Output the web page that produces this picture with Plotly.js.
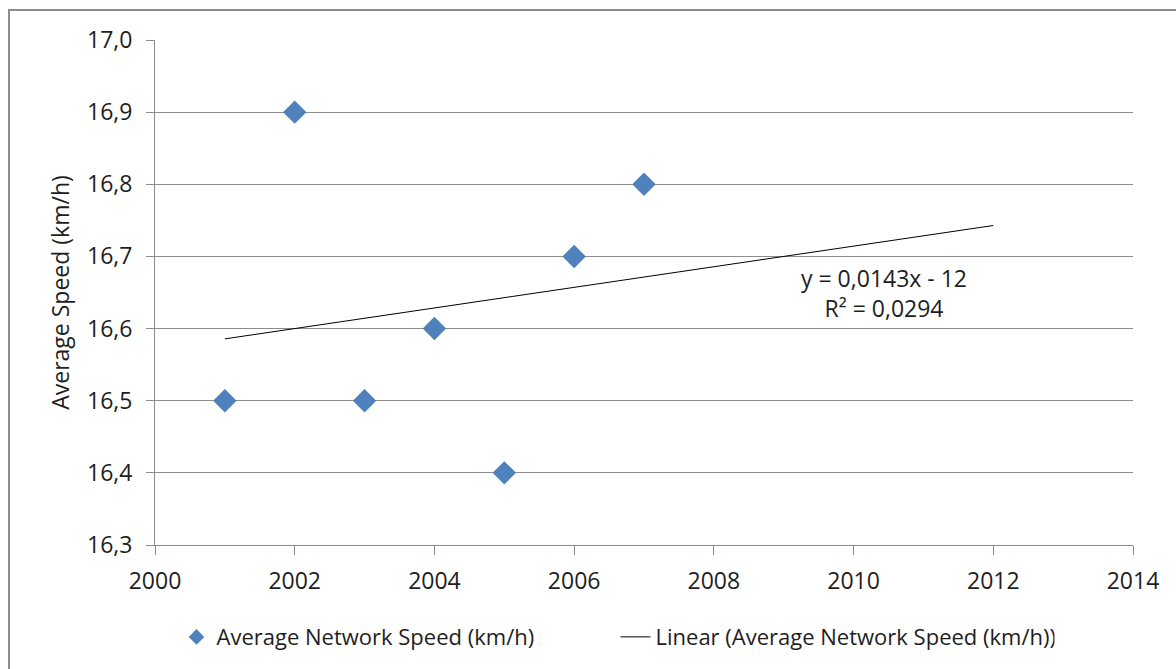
<!DOCTYPE html>
<html>
<head>
<meta charset="utf-8">
<script src="https://cdn.plot.ly/plotly-3.0.1.min.js"></script>
<style>
  html, body { margin: 0; padding: 0; background: #fff; }
  #wrap { position: relative; width: 1176px; height: 669px; overflow: hidden; }
  #chart { position: absolute; left: 0; top: 0; width: 1176px; height: 669px; }
  #frame {
    position: absolute; left: 8px; top: 9px; width: 1200px; height: 700px;
    border-top: 2px solid #8c8c8c; border-left: 2px solid #8c8c8c;
    pointer-events: none;
  }
</style>
</head>
<body>
<div id="wrap">
  <div id="chart"></div>
  <div id="frame"></div>
</div>
<script>
// Yearly average network speed
const years = [2001, 2002, 2003, 2004, 2005, 2006, 2007];
const speeds = [16.5, 16.9, 16.5, 16.6, 16.4, 16.7, 16.8];
const trendEndYear = 2012;
const seriesName = 'Average Network Speed (km/h)';
const trendName = 'Linear (Average Network Speed (km/h))';
const yTitle = 'Average Speed (km/h)';

// Least-squares linear fit
const n = years.length;
const mx = years.reduce((a, b) => a + b, 0) / n;
const my = speeds.reduce((a, b) => a + b, 0) / n;
let sxy = 0, sxx = 0, syy = 0;
for (let i = 0; i < n; i++) {
  sxy += (years[i] - mx) * (speeds[i] - my);
  sxx += (years[i] - mx) ** 2;
  syy += (speeds[i] - my) ** 2;
}
const slope = sxy / sxx;
const intercept = my - slope * mx;
const r2 = (sxy * sxy) / (sxx * syy);
const trendX = [years[0], trendEndYear];
const trendY = trendX.map(x => slope * x + intercept);

const comma = s => s.replace('.', ',');
const eqText = 'y = ' + comma(slope.toFixed(4)) + 'x ' +
  (intercept < 0 ? '- ' : '+ ') + Math.abs(Math.round(intercept)) +
  '<br>R² = ' + comma(r2.toFixed(4));

const gridCol = '#8c8c8c';
const textCol = '#1e1e1e';
const font = 'Open Sans, sans-serif';
const blue = '#4f81bd';

const traces = [
  {
    x: years, y: speeds, type: 'scatter', mode: 'markers', name: seriesName,
    legendgroup: 'speed', showlegend: false,
    marker: { symbol: 'diamond', size: 18, color: blue }
  },
  // legend entry for the series, drawn with a smaller diamond
  {
    x: [null], y: [null], type: 'scatter', mode: 'markers', name: seriesName,
    legendgroup: 'speed', showlegend: true,
    marker: { symbol: 'diamond', size: 12, color: blue }
  },
  {
    x: trendX, y: trendY, type: 'scatter', mode: 'lines', name: trendName,
    line: { color: '#000', width: 1 }
  }
];

const layout = {
  width: 1176, height: 669,
  margin: { l: 155, r: 43, t: 40, b: 123 },
  paper_bgcolor: '#fff', plot_bgcolor: '#fff',
  separators: ', ',
  font: { family: font, size: 23, color: textCol },
  showlegend: true,
  legend: {
    orientation: 'h', x: 0.022, xanchor: 'left', y: -0.18, yanchor: 'middle',
    font: { family: font, size: 22, color: textCol },
    itemsizing: 'trace', entrywidth: 394, entrywidthmode: 'pixels',
    bgcolor: 'rgba(0,0,0,0)'
  },
  xaxis: {
    range: [2000, 2014], dtick: 2, tick0: 2000,
    showgrid: false, zeroline: false,
    showline: true, linecolor: gridCol, linewidth: 1,
    ticks: 'outside', ticklen: 9, tickcolor: gridCol, tickwidth: 1,
    ticklabelstandoff: 6,
    tickfont: { family: font, size: 23, color: textCol }
  },
  yaxis: {
    range: [16.3, 17.0], dtick: 0.1, tick0: 16.3, tickformat: '.1f',
    showgrid: true, gridcolor: gridCol, gridwidth: 1, zeroline: false,
    showline: true, linecolor: gridCol, linewidth: 1,
    ticks: 'outside', ticklen: 8, tickcolor: gridCol, tickwidth: 1,
    ticklabelstandoff: 9,
    tickfont: { family: font, size: 23, color: textCol },
    title: { text: yTitle, font: { family: font, size: 23, color: textCol }, standoff: 10 }
  },
  annotations: [{
    x: 2010.44, y: 16.649, xref: 'x', yref: 'y', showarrow: false,
    text: eqText, align: 'center',
    font: { family: font, size: 23, color: textCol }
  }]
};

Plotly.newPlot('chart', traces, layout, { displayModeBar: false, staticPlot: true });
</script>
</body>
</html>
